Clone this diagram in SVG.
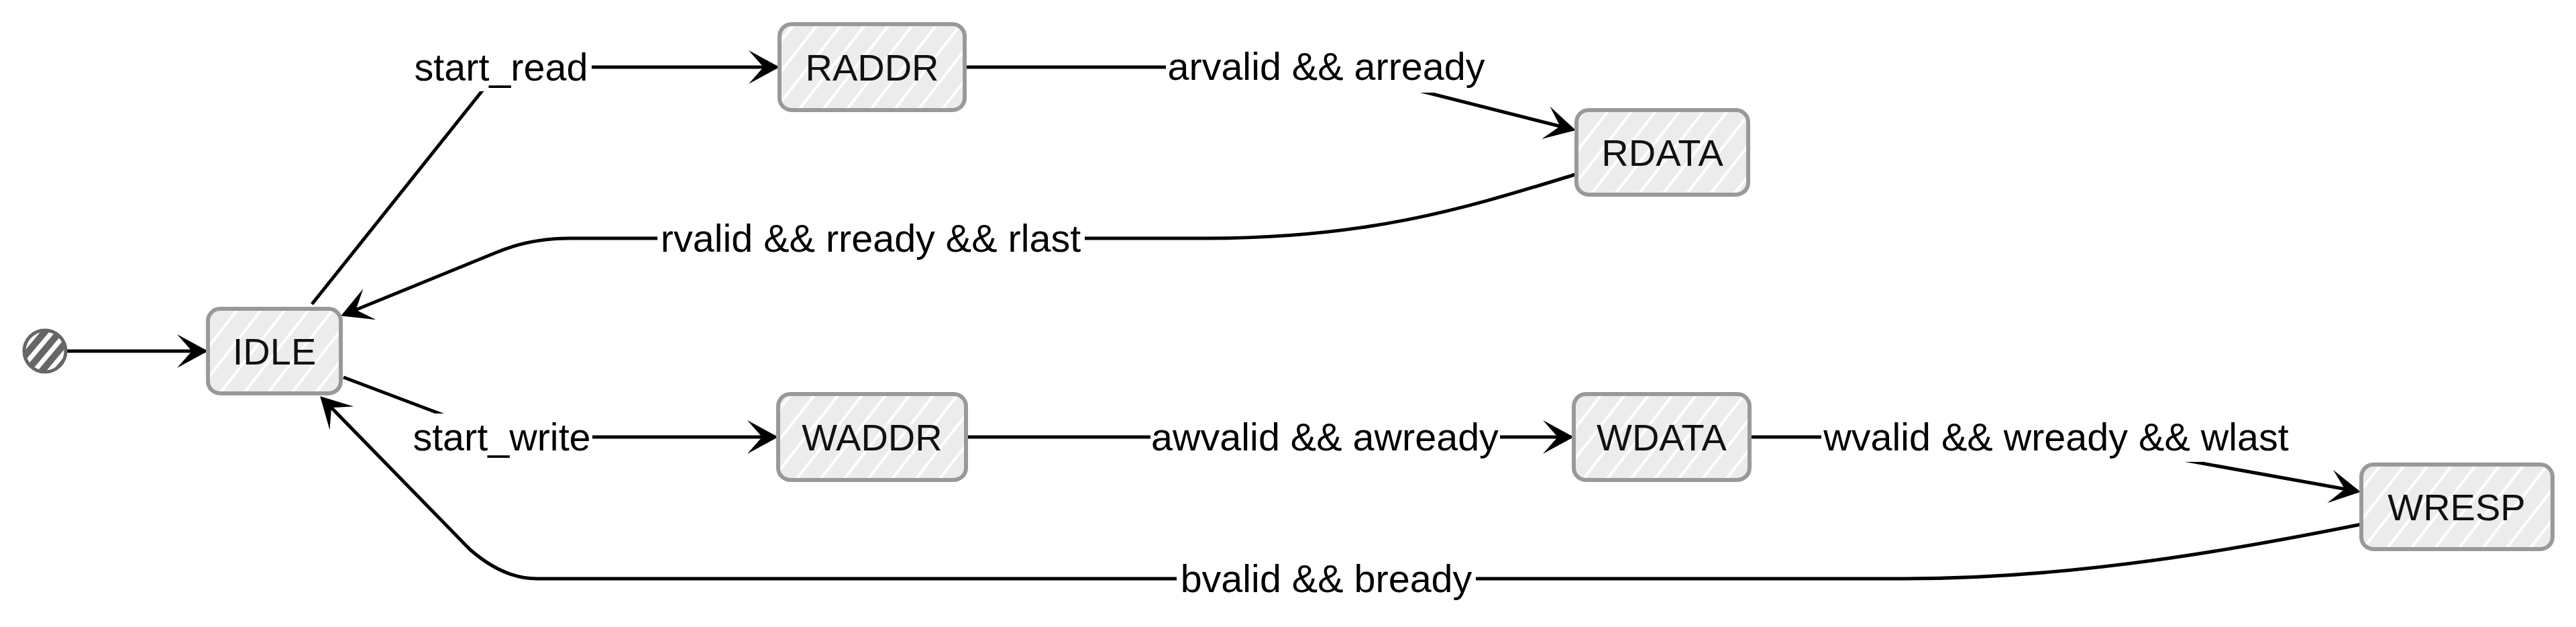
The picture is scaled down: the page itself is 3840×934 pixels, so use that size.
<svg xmlns="http://www.w3.org/2000/svg" width="3840" height="934" viewBox="0 0 3840 934">
<style>
.node rect.bg{fill:#ececec}
.node rect.hatch{fill:url(#hatch)}
.node rect.bd{fill:none;stroke:#999999;stroke-width:6}
.node text{font-family:"Liberation Sans",Arial,Helvetica,sans-serif;font-size:56px;fill:#111111;text-anchor:middle}
.edge{fill:none;stroke:#000000;stroke-width:5;stroke-linejoin:round}
.arr{marker-end:url(#arrow)}
.lbg{fill:#ffffff}
.lbl{font-family:"Liberation Sans",Arial,Helvetica,sans-serif;font-size:57.5px;fill:#000000;text-anchor:middle}
</style>
<defs>
<pattern id="hatch" patternUnits="userSpaceOnUse" width="28" height="28" patternTransform="rotate(38)">
<line x1="3" y1="-2" x2="3" y2="30" stroke="#ffffff" stroke-width="4"/>
</pattern>
<pattern id="dots" patternUnits="userSpaceOnUse" width="17" height="17" patternTransform="rotate(40)">
<rect x="0" y="0" width="17" height="17" fill="#666666"/>
<rect x="0" y="0" width="7" height="17" fill="#ffffff"/>
</pattern>
<marker id="arrow" markerUnits="userSpaceOnUse" markerWidth="56" markerHeight="60" viewBox="-48 -30 56 60" refX="0" refY="0" orient="auto">
<path d="M4,0 L-42,-25 L-20,0 L-42,25 Z" fill="#000000"/>
</marker>
</defs>
<rect x="0" y="0" width="3840" height="934" fill="#ffffff"/>

<g id="connectors">
<path class="edge arr" d="M100,523 L306,523"/>
<path class="edge arr" d="M465,453 L747,100 L1158,100"/>
<path class="edge arr" d="M1438,100 L1977,100 L2345,193"/>
<path class="edge arr" d="M2348,260 C2200,305 2050,355 1800,355 L850,355 Q790,355 740,376 L512,469"/>
<path class="edge arr" d="M512,562 L748,651 L1156,651"/>
<path class="edge arr" d="M1440,651 L2342,651"/>
<path class="edge arr" d="M2608,651 L3065,651 L3515,732"/>
<path class="edge arr" d="M3520,781 C3350,815 3100,862 2840,862 L800,862 Q750,862 700,818 L480,593"/>

<rect class="lbg" x="612" y="66" width="270" height="70"/>
<text class="lbl" x="747" y="120">start_read</text>
<rect class="lbg" x="1738" y="66" width="478" height="72"/>
<text class="lbl" x="1977" y="119">arvalid &amp;&amp; arready</text>
<rect class="lbg" x="980" y="320" width="637" height="70"/>
<text class="lbl" x="1298" y="375">rvalid &amp;&amp; rready &amp;&amp; rlast</text>
<rect class="lbg" x="613" y="616" width="270" height="70"/>
<text class="lbl" x="748" y="671">start_write</text>
<rect class="lbg" x="1715" y="616" width="521" height="70"/>
<text class="lbl" x="1975" y="671">awvalid &amp;&amp; awready</text>
<rect class="lbg" x="2715" y="616" width="700" height="72"/>
<text class="lbl" x="3065" y="671">wvalid &amp;&amp; wready &amp;&amp; wlast</text>
<rect class="lbg" x="1754" y="827" width="446" height="70"/>
<text class="lbl" x="1977" y="882">bvalid &amp;&amp; bready</text>
</g>

<g id="start">
<circle cx="67" cy="523" r="31" fill="url(#dots)" stroke="#666666" stroke-width="5"/>
</g>

<g id="IDLE" class="node">
<rect class="bg" x="310" y="460" width="198" height="126" rx="18"/>
<rect class="hatch" x="310" y="460" width="198" height="126" rx="18"/>
<rect class="bd" x="310" y="460" width="198" height="126" rx="18"/>
<text x="409" y="543">IDLE</text>
</g>

<g id="RADDR" class="node">
<rect class="bg" x="1162" y="36" width="276" height="128" rx="18"/>
<rect class="hatch" x="1162" y="36" width="276" height="128" rx="18"/>
<rect class="bd" x="1162" y="36" width="276" height="128" rx="18"/>
<text x="1300" y="120">RADDR</text>
</g>

<g id="RDATA" class="node">
<rect class="bg" x="2350" y="164" width="256" height="126" rx="18"/>
<rect class="hatch" x="2350" y="164" width="256" height="126" rx="18"/>
<rect class="bd" x="2350" y="164" width="256" height="126" rx="18"/>
<text x="2478" y="247">RDATA</text>
</g>

<g id="WADDR" class="node">
<rect class="bg" x="1160" y="587" width="280" height="128" rx="18"/>
<rect class="hatch" x="1160" y="587" width="280" height="128" rx="18"/>
<rect class="bd" x="1160" y="587" width="280" height="128" rx="18"/>
<text x="1300" y="671">WADDR</text>
</g>

<g id="WDATA" class="node">
<rect class="bg" x="2346" y="587" width="262" height="128" rx="18"/>
<rect class="hatch" x="2346" y="587" width="262" height="128" rx="18"/>
<rect class="bd" x="2346" y="587" width="262" height="128" rx="18"/>
<text x="2477" y="671">WDATA</text>
</g>

<g id="WRESP" class="node">
<rect class="bg" x="3520" y="692" width="285" height="126" rx="18"/>
<rect class="hatch" x="3520" y="692" width="285" height="126" rx="18"/>
<rect class="bd" x="3520" y="692" width="285" height="126" rx="18"/>
<text x="3662" y="775">WRESP</text>
</g>
</svg>
